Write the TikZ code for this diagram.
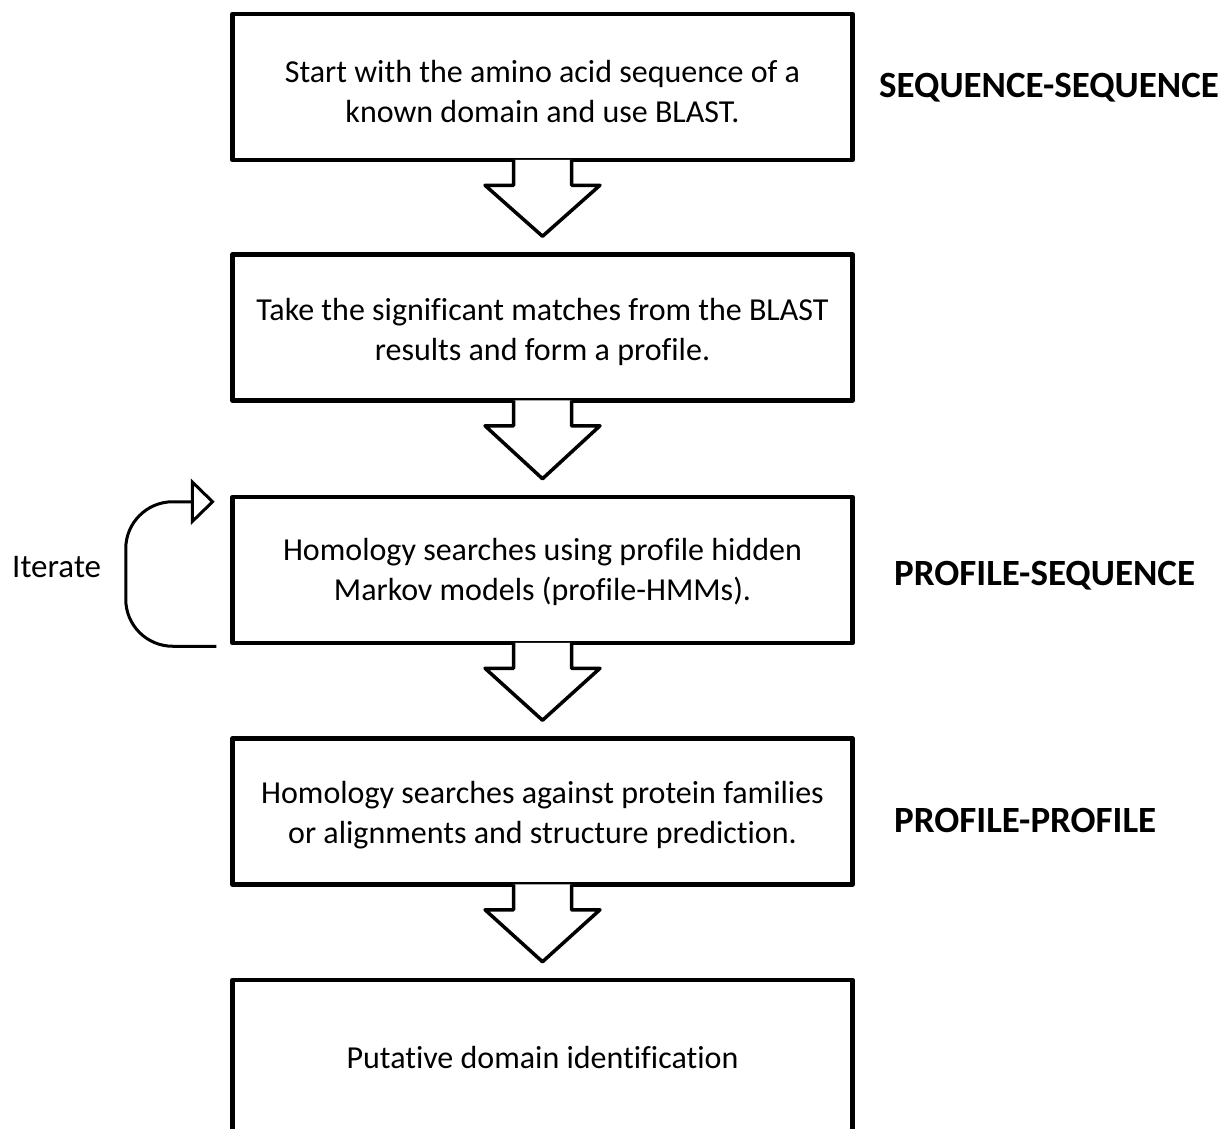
\documentclass[tikz,border=0pt]{standalone}
\usepackage{fontspec}
\setmainfont{Carlito}[Ligatures=NoCommon]
\usetikzlibrary{arrows.meta,calc}

% hollow block arrow leading from the bottom of one box to the top of the next
\newcommand\hollowarrow[2]{%
  \draw[flowarrow] ($(#1.south)+(-29,-2.3)$) -- ++(0,25.3) -- ++(-28.5,0)
    -- ($(#2.north)+(0,-16)$) -- ($(#1.south)+(57.5,23)$) -- ++(-28.5,0)
    -- ++(0,-25.3);}

\begin{document}
\begin{tikzpicture}[x=1pt,y=-1pt,
  stepbox/.style={draw, line width=4.5pt, line join=round, minimum width=620pt,
    minimum height=146pt, inner sep=0pt},
  steptext/.style={inner sep=0pt, align=center, font=\fontsize{32}{40}\selectfont},
  flowarrow/.style={draw, fill=white, line width=3.5pt, line join=round},
  tag/.style={anchor=base west, inner sep=0pt, font=\fontsize{37}{44}\selectfont\bfseries},
  sidetext/.style={anchor=base west, inner sep=0pt, font=\fontsize{33}{40}\selectfont},
  loop/.style={line width=3pt, rounded corners=47pt,
    -{Triangle[open, length=24pt, width=46pt]}}]

\clip (0,0) rectangle (1224,1128);
\useasboundingbox (0,0) rectangle (1224,1128);

% the five steps of the search
\node[stepbox] (b1) at (542.5,87) {};
\node[stepbox] (b2) at (542.5,327.5) {};
\node[stepbox] (b3) at (542.5,570) {};
\node[stepbox] (b4) at (542.5,811.5) {};
\node[stepbox, minimum height=154pt] (b5) at (542.5,1057) {};

\node[steptext] (s1) at ($(b1.center)+(0,4.5)$)
  {Start with the amino acid sequence of a\\known domain and use BLAST.};
\node[steptext] (s2) at ($(b2.center)+(0,4)$)
  {Take the significant matches from the BLAST\\results and form a profile.};
\node[steptext] (s3) at ($(b3.center)+(0,2)$)
  {Homology searches using profile hidden\\Markov models (profile-HMMs).};
\node[steptext] (s4) at ($(b4.center)+(0,4)$)
  {Homology searches against protein families\\or alignments and structure prediction.};
\node[steptext] (s5) at (b5.center) {Putative domain identification};

% block arrows between the steps
\hollowarrow{b1}{b2}
\hollowarrow{b2}{b3}
\hollowarrow{b3}{b4}
\hollowarrow{b4}{b5}

% iteration loop on the profile-HMM step
\coordinate (loopin) at ($(b3.south west)+(-14,1)$);
\coordinate (loopout) at ($(b3.north west)+(-15.5,7)$);
\draw[loop] (loopin) -| ($(b3.north west)+(-104.5,7)$) -- (loopout);
\node[sidetext] (iter) at (12,577) {Iterate};

% search categories
\node[tag] (t1) at (879,97) {SEQUENCE-SEQUENCE};
\node[tag] (t2) at (894,585) {PROFILE-SEQUENCE};
\node[tag] (t3) at (894,832) {PROFILE-PROFILE};
\end{tikzpicture}
\end{document}
